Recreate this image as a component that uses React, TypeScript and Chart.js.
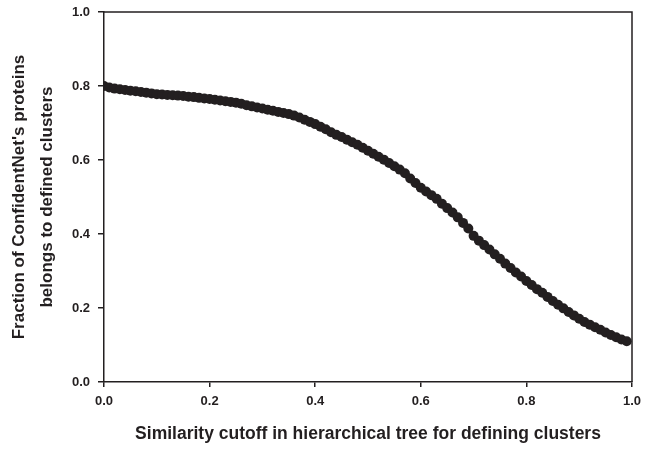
import React, { useEffect, useRef } from "react";
import { Chart, registerables } from "chart.js";

Chart.register(...registerables);

const cutoffs: number[] = [
  0.0, 0.01, 0.02, 0.03, 0.04, 0.05, 0.06, 0.07, 0.08, 0.09,
  0.1, 0.11, 0.12, 0.13, 0.14, 0.15, 0.16, 0.17, 0.18, 0.19,
  0.2, 0.21, 0.22, 0.23, 0.24, 0.25, 0.26, 0.27, 0.28, 0.29,
  0.3, 0.31, 0.32, 0.33, 0.34, 0.35, 0.36, 0.37, 0.38, 0.39,
  0.4, 0.41, 0.42, 0.43, 0.44, 0.45, 0.46, 0.47, 0.48, 0.49,
  0.5, 0.51, 0.52, 0.53, 0.54, 0.55, 0.56, 0.57, 0.58, 0.59,
  0.6, 0.61, 0.62, 0.63, 0.64, 0.65, 0.66, 0.67, 0.68, 0.69,
  0.7, 0.71, 0.72, 0.73, 0.74, 0.75, 0.76, 0.77, 0.78, 0.79,
  0.8, 0.81, 0.82, 0.83, 0.84, 0.85, 0.86, 0.87, 0.88, 0.89,
  0.9, 0.91, 0.92, 0.93, 0.94, 0.95, 0.96, 0.97, 0.98, 0.99,
];

const fractions: number[] = [
  0.800, 0.796, 0.793, 0.791, 0.789, 0.787, 0.786, 0.784, 0.782, 0.780,
  0.778, 0.777, 0.776, 0.775, 0.774, 0.773, 0.771, 0.770, 0.768, 0.766,
  0.765, 0.763, 0.761, 0.759, 0.757, 0.755, 0.752, 0.748, 0.745, 0.742,
  0.739, 0.736, 0.733, 0.730, 0.727, 0.724, 0.720, 0.715, 0.709, 0.703,
  0.697, 0.690, 0.683, 0.675, 0.668, 0.662, 0.655, 0.648, 0.641, 0.633,
  0.625, 0.617, 0.609, 0.601, 0.592, 0.583, 0.574, 0.564, 0.550, 0.538,
  0.525, 0.515, 0.505, 0.495, 0.482, 0.470, 0.458, 0.445, 0.430, 0.415,
  0.395, 0.382, 0.370, 0.358, 0.345, 0.333, 0.320, 0.308, 0.296, 0.285,
  0.273, 0.262, 0.251, 0.241, 0.230, 0.219, 0.209, 0.199, 0.189, 0.180,
  0.171, 0.162, 0.155, 0.148, 0.141, 0.134, 0.127, 0.121, 0.115, 0.110,
];

const xTitle = "Similarity cutoff in hierarchical tree for defining clusters";
const yTitle = ["Fraction of ConfidentNet's proteins", "belongs to defined clusters"];

const FONT = "'Liberation Sans', Arial, Helvetica, sans-serif";
const INK = "#231f20";

const framePlugin = {
  id: "frame",
  afterDraw(chart: any) {
    const { ctx, chartArea } = chart;
    ctx.save();
    ctx.strokeStyle = INK;
    ctx.lineWidth = 1.5;
    ctx.beginPath();
    ctx.moveTo(chartArea.left, chartArea.top);
    ctx.lineTo(chartArea.right, chartArea.top);
    ctx.lineTo(chartArea.right, chartArea.bottom);
    ctx.stroke();
    ctx.restore();
  },
};

export default function App() {
  const ref = useRef<HTMLCanvasElement | null>(null);

  useEffect(() => {
    document.body.style.margin = "0";
    if (!ref.current) return;
    const chart = new Chart(ref.current, {
      type: "scatter",
      data: {
        datasets: [
          {
            data: cutoffs.map((x, i) => ({ x, y: fractions[i] })),
            pointRadius: 5,
            pointBackgroundColor: INK,
            pointBorderColor: INK,
            pointBorderWidth: 0,
            showLine: false,
          },
        ],
      },
      options: {
        animation: false,
        responsive: false,
        maintainAspectRatio: false,
        layout: { padding: { left: 0, top: 12, right: 25, bottom: 0 } },
        plugins: {
          legend: { display: false },
          tooltip: { enabled: false },
        },
        scales: {
          x: {
            type: "linear",
            min: 0,
            max: 1,
            afterFit: (s: any) => {
              s.height = 68;
              s.paddingLeft = 0;
              s.paddingRight = 0;
            },
            border: { display: true, color: INK, width: 1.5 },
            grid: {
              display: true,
              drawOnChartArea: false,
              drawTicks: true,
              tickLength: 5,
              color: INK,
              lineWidth: 1.5,
            },
            ticks: {
              stepSize: 0.2,
              color: INK,
              padding: 7,
              font: { family: FONT, size: 13, weight: "bold" },
              callback: (v: any) => Number(v).toFixed(1),
            },
            title: {
              display: true,
              text: xTitle,
              color: INK,
              padding: { top: 0, bottom: 5 },
              font: { family: FONT, size: 17.5, weight: "bold" },
            },
          },
          y: {
            type: "linear",
            min: 0,
            max: 1,
            afterFit: (s: any) => {
              s.width = 104;
              s.paddingTop = 0;
              s.paddingBottom = 0;
            },
            border: { display: true, color: INK, width: 1.5 },
            grid: {
              display: true,
              drawOnChartArea: false,
              drawTicks: true,
              tickLength: 6,
              color: INK,
              lineWidth: 1.5,
            },
            ticks: {
              stepSize: 0.2,
              color: INK,
              padding: 8,
              font: { family: FONT, size: 13, weight: "bold" },
              callback: (v: any) => Number(v).toFixed(1),
            },
            title: {
              display: true,
              text: yTitle,
              color: INK,
              padding: { top: 6, bottom: 0 },
              font: { family: FONT, size: 17, weight: "bold", lineHeight: 1.62 },
            },
          },
        },
      },
      plugins: [framePlugin],
    } as any);
    return () => chart.destroy();
  }, []);

  return (
    <div style={{ width: 657, height: 450 }}>
      <canvas ref={ref} width={657} height={450} style={{ display: "block", width: 657, height: 450 }} />
    </div>
  );
}
